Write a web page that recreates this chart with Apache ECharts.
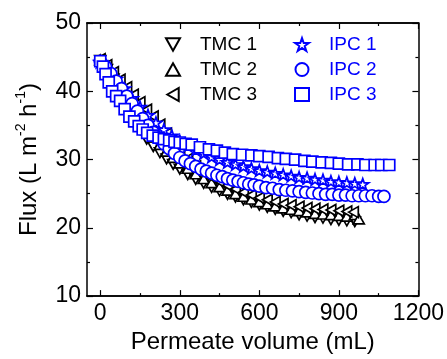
<!DOCTYPE html>
<html>
<head>
<meta charset="utf-8">
<script src="https://cdn.jsdelivr.net/npm/echarts@6/dist/echarts.min.js"></script>
<style>
html,body{margin:0;padding:0;background:#fff;}
#chart{width:447px;height:359px;}
</style>
</head>
<body>
<div id="chart"></div>
<script>
// ---- data ----
var xTicksMajor = [0, 300, 600, 900, 1200];
var xTicksMinor = [150, 450, 750, 1050];

var tmc1X = [0,25,50,75,100,125,150,175,200,225,250,275,300,330,360,390,420,450,480,510,540,570,600,630,660,690,720,750,780,810,840,870,900,930,960];
var tmc1Y = [44.5,43.2,41.8,40.1,38.3,36.3,34.4,33.0,31.9,31.0,30.1,29.3,28.6,27.8,27.1,26.5,25.9,25.4,24.9,24.5,24.1,23.7,23.3,23.0,22.7,22.4,22.2,21.9,21.7,21.5,21.4,21.2,21.1,21.0,20.9];

var tmc2X = [0,25,50,75,100,125,150,175,200,225,250,275,300,330,360,390,420,450,480,510,540,570,600,630,660,690,720,750,780,810,840,870,900,930,960,975];
var tmc2Y = [44.6,43.4,42.1,40.7,39.2,37.6,36.0,34.6,33.3,32.2,31.2,30.3,29.5,28.7,27.9,27.2,26.6,26.0,25.5,25.0,24.6,24.2,23.8,23.5,23.2,22.9,22.7,22.5,22.3,22.1,22.0,21.9,21.8,21.7,21.9,21.3];

var tmc3X = [0,25,50,75,100,125,150,175,200,225,250,275,300,330,360,390,420,450,480,510,540,570,600,630,660,690,720,750,780,810,840,870,900,930,955];
var tmc3Y = [44.7,43.8,42.8,41.7,40.6,39.5,38.4,37.3,36.3,35.1,33.8,32.5,31.3,30.1,29.0,28.1,27.4,26.8,26.2,25.7,25.2,24.8,24.4,24.1,23.8,23.5,23.3,23.1,22.9,22.8,22.7,22.6,22.5,22.4,22.3];

var ipc1X = [0,30,60,90,120,150,180,210,240,270,300,330,360,390,420,450,480,510,540,570,600,630,660,690,720,750,780,810,840,870,900,930,960,990];
var ipc1Y = [44.3,43.1,41.8,40.4,39.0,37.7,36.5,35.4,34.4,33.5,32.7,32.0,31.4,30.9,30.4,30.0,29.6,29.3,29.0,28.7,28.4,28.2,28.0,27.8,27.6,27.4,27.3,27.1,27.0,26.8,26.7,26.6,26.5,26.4];

var ipc2X = [0,20,40,60,80,100,120,140,160,180,200,220,240,260,280,300,320,340,360,380,400,420,440,460,480,500,520,540,560,580,600,625,650,675,700,725,750,775,800,825,850,875,900,925,950,975,1000,1025,1050,1070];
var ipc2Y = [44.4,43.6,42.6,41.5,40.4,39.3,38.2,37.1,36.0,35.0,34.0,33.1,32.3,31.6,30.9,30.3,29.8,29.4,29.0,28.6,28.3,28.0,27.7,27.5,27.2,27.0,26.8,26.6,26.4,26.3,26.1,25.9,25.8,25.6,25.5,25.4,25.3,25.2,25.1,25.0,24.9,24.9,24.8,24.8,24.7,24.7,24.7,24.7,24.6,24.6];

var ipc3X = [0,10,20,32,45,60,75,92,110,128,145,160,177,198,220,240,260,280,300,322,345,376,410,440,470,500,535,570,600,635,670,700,735,770,800,835,870,900,935,970,1000,1035,1060,1090];
var ipc3Y = [44.4,43.6,42.5,41.3,40.0,39.3,38.6,37.4,36.3,35.6,34.9,34.4,33.9,33.5,33.2,33.0,32.8,32.6,32.5,32.3,32.2,31.8,31.5,31.3,31.0,30.8,30.7,30.6,30.5,30.4,30.2,30.1,30.0,29.8,29.7,29.6,29.5,29.4,29.3,29.3,29.2,29.2,29.2,29.2];

// ---- chart ----
function zip(xs, ys){ return xs.map(function(x,i){ return [x, ys[i]]; }); }
var FONT = 'Liberation Sans, Arial, Helvetica, sans-serif';
var BLUE = '#0000ff';
var STAR = 'path://M50,2 L61.8,36.2 L97.6,36.2 L68.6,57.4 L79.6,91.6 L50,70.4 L20.4,91.6 L31.4,57.4 L2.4,36.2 L38.2,36.2 Z';
var TRI_UP = 'path://M50,0 L100,88 L0,88 Z';
var TRI_DOWN = 'path://M0,0 L100,0 L50,88 Z';
var TRI_LEFT = 'path://M0,50 L88,0 L88,100 Z';

function sc(name, xs, ys, symbol, color, size){
  return {
    name: name, type: 'scatter', data: zip(xs, ys),
    xAxisIndex: 0, yAxisIndex: 0,
    symbol: symbol, symbolSize: size, symbolKeepAspect: true,
    itemStyle: {color: '#fff', borderColor: color, borderWidth: 1.7, opacity: 1},
    emphasis: {disabled: true}
  };
}

var axisLine = {show: true, onZero: false, lineStyle: {color: '#000', width: 1.5}};
function xAx(pos, ticks, len, labels){
  return {
    type: 'value', position: pos, min: -50, max: 1200, gridIndex: 0,
    axisLine: axisLine,
    axisTick: {show: true, inside: true, length: len, customValues: ticks, lineStyle: {color: '#000', width: 1.2}},
    axisLabel: labels ? {show: true, customValues: ticks, color: '#000', fontSize: 23, fontFamily: FONT, margin: 6,
      formatter: function(v){ return String(v); }} : {show: false},
    splitLine: {show: false}
  };
}

var option = {
  animation: false,
  backgroundColor: '#fff',
  grid: {left: 87, right: 27, top: 23, bottom: 57, containLabel: false},
  xAxis: [
    Object.assign(xAx('bottom', xTicksMajor, 6, true), {
      name: 'Permeate volume (mL)', nameLocation: 'middle', nameGap: 30,
      nameTextStyle: {color: '#000', fontSize: 24, fontFamily: FONT, verticalAlign: 'top'}
    }),
    xAx('bottom', xTicksMinor, 3, false),
    xAx('top', xTicksMajor, 6, false),
    xAx('top', xTicksMinor, 3, false)
  ],
  yAxis: [
    {
      type: 'value', position: 'left', min: 10, max: 50, interval: 10,
      axisLine: axisLine,
      axisTick: {show: true, inside: true, length: 6, lineStyle: {color: '#000', width: 1.2}},
      minorTick: {show: true, splitNumber: 2, length: 3, lineStyle: {color: '#000', width: 1.2}},
      axisLabel: {color: '#000', fontSize: 23, fontFamily: FONT, margin: 6},
      splitLine: {show: false},
      name: 'Flux (L m{s|-2} h{s|-1})',
      nameLocation: 'middle', nameRotate: 90, nameGap: 39,
      nameTextStyle: {
        color: '#000', fontSize: 24, fontFamily: FONT, lineHeight: 30,
        rich: {s: {fontSize: 14, fontFamily: FONT, color: '#000', verticalAlign: 'top', lineHeight: 30, padding: [0,0,12,0]}}
      }
    },
    {
      type: 'value', position: 'right', min: 10, max: 50, interval: 10,
      axisLine: axisLine,
      axisTick: {show: true, inside: true, length: 6, lineStyle: {color: '#000', width: 1.2}},
      minorTick: {show: true, splitNumber: 2, length: 3, lineStyle: {color: '#000', width: 1.2}},
      axisLabel: {show: false},
      splitLine: {show: false}
    }
  ],
  legend: [
    {
      data: ['TMC 1', 'TMC 2', 'TMC 3'], orient: 'vertical', left: 160, top: 30,
      itemWidth: 14, itemHeight: 13, itemGap: 6, selectedMode: false,
      textStyle: {color: '#000', fontSize: 19, fontFamily: FONT, padding: [0,0,0,15]}
    },
    {
      data: ['IPC 1', 'IPC 2', 'IPC 3'], orient: 'vertical', left: 289, top: 30,
      itemWidth: 14, itemHeight: 13, itemGap: 6, selectedMode: false,
      textStyle: {color: BLUE, fontSize: 19, fontFamily: FONT, padding: [0,0,0,15]}
    }
  ],
  series: [
    sc('TMC 1', tmc1X, tmc1Y, TRI_DOWN, '#000', 11),
    sc('TMC 2', tmc2X, tmc2Y, TRI_UP, '#000', 11),
    sc('TMC 3', tmc3X, tmc3Y, TRI_LEFT, '#000', 11),
    sc('IPC 1', ipc1X, ipc1Y, STAR, BLUE, 12),
    sc('IPC 2', ipc2X, ipc2Y, 'circle', BLUE, 12),
    sc('IPC 3', ipc3X, ipc3Y, 'rect', BLUE, 11)
  ]
};
var chart = echarts.init(document.getElementById('chart'), null, {renderer: 'canvas'});
chart.setOption(option);
</script>
</body>
</html>
